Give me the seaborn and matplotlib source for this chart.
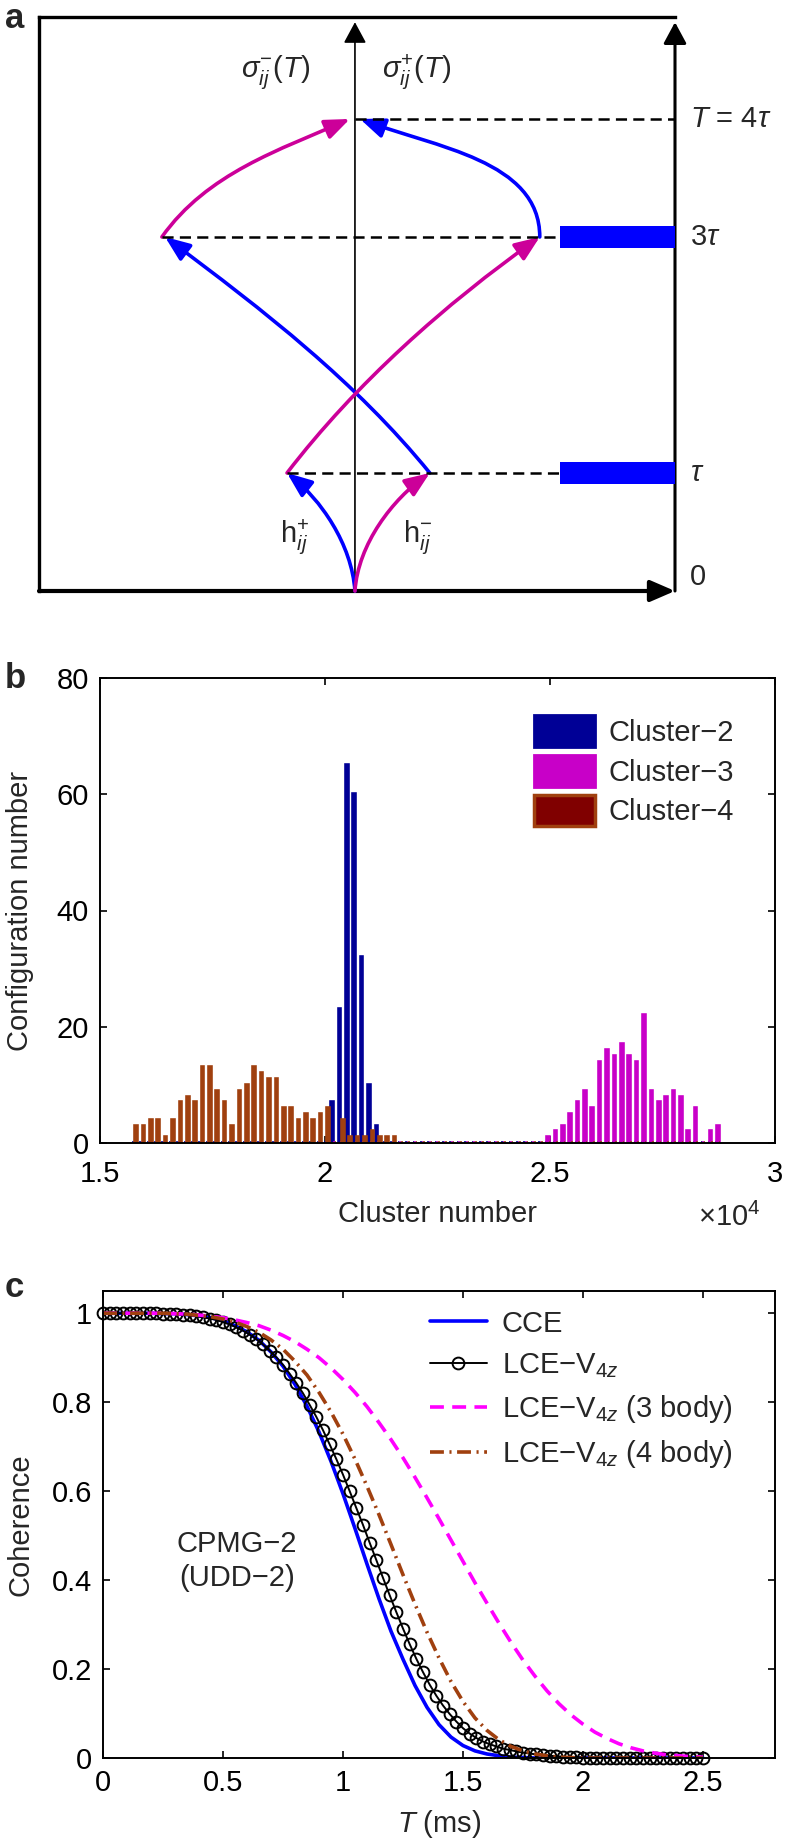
import numpy as np
import pandas as pd
import matplotlib
matplotlib.use("Agg")
import matplotlib.pyplot as plt
from matplotlib.patches import FancyArrowPatch, Patch, Rectangle
from matplotlib.path import Path
from matplotlib.ticker import FuncFormatter
import seaborn as sns

# ---------------- panel a : schematic ----------------
# x = offset from the central axis (frame left edge = -1), y = time in units of tau
frame_x = (-1.0, 1.013)
frame_top = 4.864
axis_top = 4.82
level_y = [1, 3, 4]
level_text = [r'$\tau$', r'3$\tau$', r'$T$ = 4$\tau$']
dash_from = [-0.215, -0.611, 0.0]
dash_to = [0.655, 0.649, 1.013]
pulse_y = [1, 3]
pulse_x = (0.649, 1.013)
pulse_h = 0.18

# cubic Bezier control points (start, c1, c2, end)
path_blue = [
    [(0, 0), (-0.01, 0.40), (-0.11, 0.78), (-0.215, 1)],
    [(0.237, 1), (0.003, 1.77), (-0.285, 2.37), (-0.601, 3)],
    [(0.585, 3), (0.585, 3.65), (0.253, 3.76), (0.016, 4)],
]
path_magenta = [
    [(0, 0), (0.01, 0.40), (0.12, 0.78), (0.237, 1)],
    [(-0.215, 1), (0.003, 1.76), (0.285, 2.43), (0.585, 3)],
    [(-0.611, 3), (-0.468, 3.54), (-0.237, 3.74), (-0.016, 4)],
]

# ---------------- panel b : histogram (x in units of 1e4) ----------------
bin_start, bin_step, n_bins = 1.5764, 0.016411, 80
cluster2 = [0] * 27 + [7, 23, 65, 60, 32, 10, 3] + [0] * 46
cluster3 = [0] * 56 + [1, 2, 3, 5, 7, 9, 6, 14, 16, 15, 17, 15, 14, 22,
                       9, 7, 8, 9, 8, 2, 6, 0, 2, 3]
cluster4 = [3, 3, 4, 4, 1, 4, 7, 8, 7, 13, 13, 9, 7, 3, 9, 10, 13, 12, 11, 11,
            6, 6, 4, 5, 4, 5, 6, 0, 4, 1, 1, 1, 2, 1, 1, 1] + [0] * 44
series_names = ['Cluster\u22122', 'Cluster\u22123', 'Cluster\u22124']

# ---------------- panel c : coherence ----------------
t_line = np.round(np.arange(51) * 0.05, 2)
t_lce = np.linspace(0, 2.5, 91)
cce = [1.000, 1.000, 1.000, 1.000, 1.000, 0.999, 0.999, 0.997, 0.994, 0.990,
       0.983, 0.972, 0.958, 0.939, 0.913, 0.881, 0.840, 0.791, 0.733, 0.667,
       0.594, 0.516, 0.436, 0.358, 0.285, 0.222, 0.163, 0.114, 0.075, 0.047,
       0.028, 0.016, 0.009, 0.005, 0.002, 0.001, 0, 0, 0, 0,
       0, 0, 0, 0, 0, 0, 0, 0, 0, 0, 0]
lce3 = [1.000, 1.000, 1.000, 1.000, 1.000, 1.000, 0.999, 0.998, 0.996, 0.993,
        0.990, 0.985, 0.979, 0.972, 0.962, 0.950, 0.936, 0.919, 0.900, 0.877,
        0.851, 0.822, 0.790, 0.754, 0.716, 0.675, 0.631, 0.585, 0.538, 0.490,
        0.442, 0.394, 0.348, 0.303, 0.260, 0.220, 0.184, 0.151, 0.122, 0.097,
        0.076, 0.058, 0.044, 0.032, 0.023, 0.016, 0.011, 0.007, 0.005, 0.003, 0.002]
lce4 = [1.000, 1.000, 1.000, 1.000, 1.000, 1.000, 0.999, 0.998, 0.995, 0.992,
        0.987, 0.980, 0.970, 0.957, 0.940, 0.919, 0.892, 0.861, 0.822, 0.778,
        0.728, 0.672, 0.611, 0.547, 0.480, 0.412, 0.346, 0.283, 0.225, 0.172,
        0.127, 0.090, 0.062, 0.041, 0.026, 0.016, 0.009, 0.005, 0.002, 0.001,
        0, 0, 0, 0, 0, 0, 0, 0, 0, 0, 0]
lce = [1.000, 1.000, 1.000, 1.000, 1.000, 1.000, 1.000, 1.000, 1.000, 0.999,
       0.999, 0.998, 0.997, 0.995, 0.994, 0.991, 0.988, 0.985, 0.980, 0.975,
       0.968, 0.961, 0.952, 0.942, 0.930, 0.916, 0.901, 0.884, 0.864, 0.843,
       0.820, 0.794, 0.767, 0.737, 0.705, 0.672, 0.637, 0.600, 0.562, 0.524,
       0.484, 0.445, 0.405, 0.366, 0.328, 0.291, 0.256, 0.223, 0.193, 0.165,
       0.140, 0.118, 0.099, 0.082, 0.067, 0.055, 0.045, 0.037, 0.031, 0.026,
       0.021, 0.018, 0.015, 0.012, 0.010, 0.008, 0.006, 0.005, 0.004, 0.003,
       0.002, 0.002, 0.001, 0, 0, 0, 0, 0, 0, 0,
       0, 0, 0, 0, 0, 0, 0, 0, 0, 0, 0]

BLUE = '#0000FF'
MAGENTA_A = '#CC0099'
NAVY = '#000096'
PURPLE = '#C800C8'
DARKRED = '#800000'
SIENNA = '#A0400F'
FS = 21

sns.set_style('ticks')
plt.rcParams['font.family'] = ['Liberation Sans', 'DejaVu Sans']
plt.rcParams['mathtext.fontset'] = 'custom'
plt.rcParams['mathtext.rm'] = 'Liberation Sans'
plt.rcParams['mathtext.it'] = 'Liberation Sans:italic'
plt.rcParams['mathtext.bf'] = 'Liberation Sans:bold'
plt.rcParams['lines.scale_dashes'] = False

fig = plt.figure(figsize=(7.88, 18.41), dpi=100)
W, H = 788, 1841


def px_axes(x0, y0, x1, y1):
    return fig.add_axes([x0 / W, 1 - y1 / H, (x1 - x0) / W, (y1 - y0) / H])


# ===== panel a =====
axa = px_axes(39, 17, 675, 591)
axa.set_xlim(*frame_x)
axa.set_ylim(0, frame_top)
axa.axis('off')

axa.plot([frame_x[0], frame_x[1]], [frame_top, frame_top], color='k', lw=2.4, clip_on=False,
         solid_capstyle='projecting')
axa.plot([frame_x[0], frame_x[0]], [0, frame_top], color='k', lw=2.4, clip_on=False,
         solid_capstyle='projecting')


def arrow(p0, p1, lw, hl, hw):
    a = FancyArrowPatch(p0, p1, arrowstyle=f'-|>,head_length={hl},head_width={hw}',
                        mutation_scale=10, shrinkA=0, shrinkB=0, lw=lw, color='k',
                        transform=axa.transData, clip_on=False)
    axa.add_patch(a)


arrow((frame_x[0], 0), (frame_x[1], 0), 3.0, 1.5, 0.65)
arrow((0, 0), (0, axis_top), 1.2, 1.3, 0.7)
arrow((frame_x[1], 0), (frame_x[1], axis_top), 2.2, 1.3, 0.7)

for y, x0, x1 in zip(level_y, dash_from, dash_to):
    axa.plot([x0, x1], [y, y], color='k', lw=1.8, linestyle=(0, (8, 4.5)), clip_on=False)
for y in pulse_y:
    axa.add_patch(Rectangle((pulse_x[0], y - pulse_h / 2), pulse_x[1] - pulse_x[0], pulse_h,
                            facecolor=BLUE, edgecolor='none', clip_on=False))

codes = [Path.MOVETO, Path.CURVE4, Path.CURVE4, Path.CURVE4]
for paths, col in [(path_blue, BLUE), (path_magenta, MAGENTA_A)]:
    for pts in paths:
        a = FancyArrowPatch(path=Path(pts, codes),
                            arrowstyle='-|>,head_length=1.5,head_width=0.6',
                            mutation_scale=10, lw=2.6, color=col,
                            transform=axa.transData, clip_on=False)
        axa.add_patch(a)

for y, t in zip(level_y, level_text):
    axa.text(1.06, y, t, fontsize=FS, va='center', ha='left')
axa.text(1.06, 0, '0', fontsize=FS, va='bottom', ha='left')
axa.text(-0.25, 4.40, r'$\sigma^{-}_{ij}(T)$', fontsize=FS, ha='center', va='center')
axa.text(0.195, 4.40, r'$\sigma^{+}_{ij}(T)$', fontsize=FS, ha='center', va='center')
axa.text(-0.19, 0.46, r'$\mathrm{h}^{+}_{ij}$', fontsize=FS, ha='center', va='center')
axa.text(0.20, 0.46, r'$\mathrm{h}^{-}_{ij}$', fontsize=FS, ha='center', va='center')

# ===== panel b =====
axb = px_axes(100, 678, 775, 1143)
bins = np.round(bin_start + bin_step * np.arange(n_bins), 5)
df_b = pd.DataFrame({
    'bin': np.tile(bins, 3),
    'count': cluster2 + cluster3 + cluster4,
    'series': np.repeat(series_names, n_bins),
})
bar_colors = dict(zip(series_names, [NAVY, PURPLE, SIENNA]))
sns.barplot(data=df_b, x='bin', y='count', hue='series', hue_order=series_names,
            native_scale=True, palette=bar_colors, saturation=1, width=0.667,
            dodge=True, errorbar=None, legend=False, ax=axb)
for cont, name in zip(axb.containers, series_names):
    for p in cont:
        p.set_edgecolor(bar_colors[name])
        p.set_linewidth(2.6)
        if name == series_names[2]:
            p.set_facecolor(DARKRED)
axb.set_xlim(1.5, 3)
axb.set_ylim(0, 80)
axb.set_xticks([1.5, 2, 2.5, 3])
axb.set_yticks([0, 20, 40, 60, 80])
axb.set_xlabel('Cluster number', fontsize=FS)
axb.set_ylabel('Configuration number', fontsize=FS)
axb.xaxis.set_label_coords(0.5, -0.122)
axb.yaxis.set_label_coords(-0.098, 0.5)
axb.text(0.978, -0.161, '\u00d710$^{4}$', transform=axb.transAxes, fontsize=FS,
         ha='right', va='center')
leg_handles = [Patch(facecolor=NAVY, edgecolor=NAVY, lw=2),
               Patch(facecolor=PURPLE, edgecolor=PURPLE, lw=2),
               Patch(facecolor=DARKRED, edgecolor=SIENNA, lw=2.5)]
axb.legend(leg_handles, series_names, loc='upper left', bbox_to_anchor=(0.643, 0.92),
           frameon=False, fontsize=FS, handlelength=2.1, handleheight=1.3,
           handletextpad=0.44, labelspacing=0.27, borderpad=0, borderaxespad=0)

# ===== panel c =====
axc = px_axes(103, 1291, 775, 1758)
sns.lineplot(x=t_line, y=cce, color=BLUE, lw=2.6, label='CCE', ax=axc)
sns.lineplot(x=t_lce, y=lce, color='k', lw=1.4, marker='o', markersize=8.5,
             markerfacecolor='none', markeredgecolor='k', markeredgewidth=1.4,
             label=r'LCE$-$V$_{4\mathit{z}}$', ax=axc, clip_on=False)
sns.lineplot(x=t_line, y=lce3, color='#FF00FF', lw=2.6, linestyle=(0, (10, 6)),
             label=r'LCE$-$V$_{4\mathit{z}}$ (3 body)', ax=axc)
sns.lineplot(x=t_line, y=lce4, color=SIENNA, lw=2.6, linestyle=(0, (10, 4, 1.5, 4)),
             label=r'LCE$-$V$_{4\mathit{z}}$ (4 body)', ax=axc)
axc.set_xlim(0, 2.8)
axc.set_ylim(0, 1.05)
axc.set_xticks([0, 0.5, 1, 1.5, 2, 2.5])
axc.set_yticks([0, 0.2, 0.4, 0.6, 0.8, 1])
axc.set_xlabel(r'$T$ (ms)', fontsize=FS)
axc.set_ylabel('Coherence', fontsize=FS)
axc.xaxis.set_label_coords(0.5, -0.108)
axc.yaxis.set_label_coords(-0.102, 0.5)
axc.text(0.199, 0.422, 'CPMG\u22122\n(UDD\u22122)', transform=axc.transAxes, fontsize=FS,
         ha='center', va='center', linespacing=1.28)
axc.legend(loc='upper left', bbox_to_anchor=(0.4866, 0.96), frameon=False, fontsize=FS,
           handlelength=1.95, handletextpad=0.51, labelspacing=0.45, borderpad=0,
           borderaxespad=0)

fmt = FuncFormatter(lambda v, pos: f'{v:g}')
for ax in (axb, axc):
    for s in ax.spines.values():
        s.set_visible(True)
        s.set_linewidth(1.4)
        s.set_color('k')
    ax.tick_params(direction='in', top=True, right=True, length=5, width=1.2,
                   labelsize=FS, colors='k', pad=8)
    ax.xaxis.set_major_formatter(fmt)
    ax.yaxis.set_major_formatter(fmt)
axb.tick_params(axis='x', pad=12)

for letter, ypx in [('a', 28), ('b', 688), ('c', 1297)]:
    fig.text(0.006, 1 - ypx / H, letter, fontsize=25, fontweight='bold',
             ha='left', va='baseline')

fig.savefig('out.png', dpi=100)
